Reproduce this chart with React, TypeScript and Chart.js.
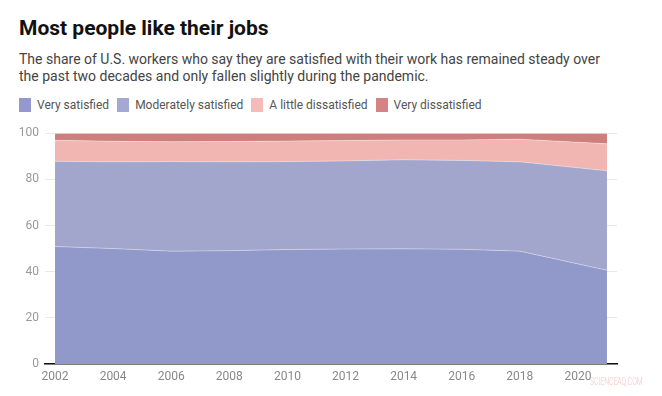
import React, { useEffect, useRef } from "react";
import { Chart, registerables } from "chart.js";

Chart.register(...registerables);

const years = [2002, 2004, 2006, 2008, 2010, 2012, 2014, 2016, 2018, 2021];
const xTicks = [2002, 2004, 2006, 2008, 2010, 2012, 2014, 2016, 2018, 2020];
const yTicks = [0, 20, 40, 60, 80, 100];

const verySatisfied = [50.9, 50.0, 48.9, 49.1, 49.6, 49.8, 49.9, 49.7, 48.9, 40.6];
const moderatelySatisfied = [36.9, 37.6, 38.8, 38.5, 38.1, 38.2, 38.6, 38.5, 38.7, 43.1];
const littleDissatisfied = [9.1, 8.9, 8.6, 8.8, 8.9, 8.8, 8.6, 8.9, 9.8, 11.7];
const veryDissatisfied = [3.1, 3.5, 3.7, 3.6, 3.4, 3.2, 2.9, 2.9, 2.6, 4.6];

const seriesNames = ["Very satisfied", "Moderately satisfied", "A little dissatisfied", "Very dissatisfied"];
const seriesColors = ["#9198ca", "#a3a6cc", "#f1b6b1", "#cd7f7d"];
const legendColors = ["#9797cf", "#a5a9d1", "#f5baba", "#d48484"];

const FONT = "Roboto, 'Noto Sans', sans-serif";

export default function App() {
  const canvasRef = useRef<HTMLCanvasElement | null>(null);

  useEffect(() => {
    document.body.style.margin = "0";
    const canvas = canvasRef.current;
    if (!canvas) return;
    const allSeries = [verySatisfied, moderatelySatisfied, littleDissatisfied, veryDissatisfied];
    const datasets = allSeries.map((vals, i) => ({
      label: seriesNames[i],
      data: vals.map((v, j) => ({ x: years[j], y: v })),
      backgroundColor: seriesColors[i],
      borderColor: "rgba(255,255,255,0.35)",
      borderWidth: 1,
      pointRadius: 0,
      fill: i === 0 ? "origin" : "-1",
      tension: 0,
    }));
    const chart = new Chart(canvas, {
      type: "line",
      data: { datasets },
      options: {
        animation: false,
        responsive: false,
        maintainAspectRatio: false,
        layout: { padding: { top: 9, right: 45, bottom: 0, left: 0 } },
        plugins: {
          legend: { display: false },
          tooltip: { enabled: false },
        },
        scales: {
          x: {
            type: "linear",
            min: 2001.655,
            max: 2021.345,
            grid: { display: false, drawTicks: false },
            border: { display: true, color: "#111", width: 1.5 },
            afterBuildTicks: (scale: any) => {
              scale.ticks = xTicks.map((v) => ({ value: v }));
            },
            afterFit: (scale: any) => {
              scale.height = 32;
            },
            ticks: {
              padding: 6,
              color: "#888",
              font: { family: FONT, size: 12 },
              callback: (v: any) => String(v),
              maxRotation: 0,
              autoSkip: false,
            },
          },
          y: {
            stacked: true,
            min: 0,
            max: 100,
            z: 1,
            afterBuildTicks: (scale: any) => {
              scale.ticks = yTicks.map((v) => ({ value: v }));
            },
            afterFit: (scale: any) => {
              scale.width = 45;
            },
            grid: { color: "rgba(0,0,0,0.09)", drawTicks: false, lineWidth: 1 },
            border: { display: false },
            ticks: {
              padding: 6,
              color: "#999",
              font: { family: FONT, size: 12 },
            },
          },
        },
      },
    });
    return () => chart.destroy();
  }, []);

  return (
    <div style={{ position: "relative", width: 662, height: 396, background: "#fff", overflow: "hidden" }}>
      <div
        style={{
          position: "absolute",
          left: 19,
          top: 15,
          fontFamily: FONT,
          fontWeight: 700,
          fontSize: 21,
          lineHeight: "26px",
          color: "#111",
          whiteSpace: "nowrap",
        }}
      >
        Most people like their jobs
      </div>
      <div
        style={{
          position: "absolute",
          left: 19,
          top: 51,
          width: 630,
          fontFamily: FONT,
          fontSize: 14,
          lineHeight: "17px",
          color: "#444",
        }}
      >
        The share of U.S. workers who say they are satisfied with their work has remained steady over
        <br />
        the past two decades and only fallen slightly during the pandemic.
      </div>
      <div
        style={{
          position: "absolute",
          left: 19,
          top: 98,
          display: "flex",
          alignItems: "center",
          fontFamily: FONT,
          fontSize: 12,
          color: "#555",
          whiteSpace: "nowrap",
        }}
      >
        {seriesNames.map((n, i) => (
          <div key={n} style={{ display: "flex", alignItems: "center", marginRight: 8 }}>
            <span style={{ display: "inline-block", width: 12, height: 14, background: legendColors[i], marginRight: 6 }} />
            <span>{n}</span>
          </div>
        ))}
      </div>
      <canvas
        ref={canvasRef}
        width={662}
        height={276}
        style={{ position: "absolute", left: 0, top: 120, width: 662, height: 276 }}
      />
      <div
        style={{
          position: "absolute",
          left: 590,
          top: 375,
          fontFamily: FONT,
          fontSize: 11,
          fontWeight: 300,
          color: "#f2c6c6",
          whiteSpace: "nowrap",
          transform: "scaleX(0.62)",
          transformOrigin: "left top",
        }}
      >
        SCIENCEAQ.COM
      </div>
    </div>
  );
}
